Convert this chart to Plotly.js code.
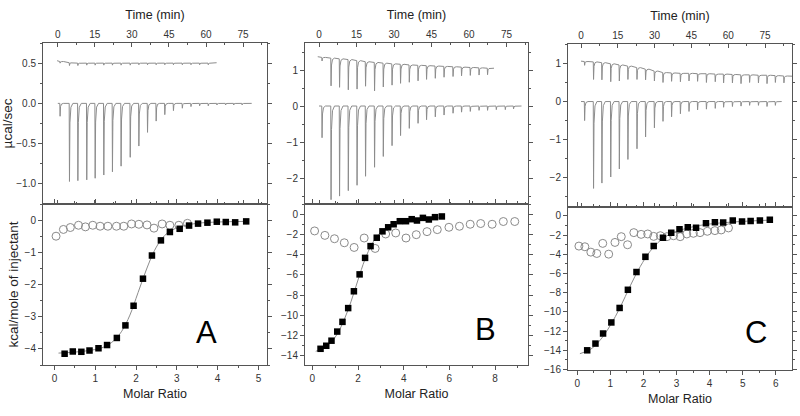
<!DOCTYPE html>
<html><head><meta charset="utf-8">
<script src="https://cdn.plot.ly/plotly-3.0.1.min.js"></script>
<style>html,body{margin:0;padding:0;background:#fff}#chart{width:800px;height:416px}</style>
</head><body><div id="chart"></div>
<script>
// ================= DATA =================
// ---- Panel A: raw thermograms (µcal/sec vs min) ----
const aMainTimes = [0.8, 4.6, 8.0, 11.6, 15.0, 18.5, 22.0, 25.5, 29.2, 32.7, 36.2, 39.7, 43.2, 46.7, 50.3, 53.8, 57.3, 60.8, 64.3, 67.8, 71.1, 74.5];
const aMainPeaks = [-0.16, -0.97, -0.96, -0.95, -0.93, -0.89, -0.85, -0.78, -0.67, -0.53, -0.36, -0.22, -0.14, -0.09, -0.06, -0.04, -0.03, -0.03, -0.02, -0.02, -0.02, -0.02];
const aMainBase = 0.0, aMainStart = 0.0, aMainEnd = 78.5;
const aCtrlTimes = [0.8, 4.6, 8.0, 11.6, 15.0, 18.5, 22.0, 25.5, 29.2, 32.7, 36.2, 39.7, 43.2, 46.7, 50.3, 53.8, 57.3, 60.8];
const aCtrlBase  = [0.52, 0.505, 0.50, 0.50, 0.50, 0.50, 0.50, 0.50, 0.50, 0.50, 0.50, 0.50, 0.50, 0.50, 0.50, 0.50, 0.50, 0.50];
const aCtrlPeaks = [0.50, 0.47, 0.47, 0.475, 0.475, 0.475, 0.475, 0.475, 0.475, 0.48, 0.48, 0.48, 0.48, 0.48, 0.48, 0.48, 0.48, 0.48];
const aCtrlStart = [-0.3, 0.53], aCtrlEnd = [64.3, 0.505];
// ---- Panel A: integrated heats (kcal/mole of injectant vs molar ratio) ----
const aSqX = [0.25, 0.45, 0.66, 0.86, 1.08, 1.29, 1.53, 1.74, 1.94, 2.17, 2.39, 2.61, 2.83, 3.07, 3.30, 3.52, 3.75, 3.98, 4.20, 4.43, 4.70];
const aSqY = [-4.15, -4.08, -4.09, -4.05, -3.98, -3.88, -3.66, -3.27, -2.66, -1.82, -1.10, -0.63, -0.37, -0.27, -0.17, -0.11, -0.08, -0.05, -0.06, -0.07, -0.04];
const aCiX = [0.04, 0.22, 0.39, 0.59, 0.76, 0.94, 1.12, 1.31, 1.52, 1.70, 1.89, 2.07, 2.27, 2.44, 2.64, 2.83, 3.05, 3.26];
const aCiY = [-0.50, -0.29, -0.23, -0.16, -0.21, -0.16, -0.19, -0.19, -0.19, -0.19, -0.12, -0.13, -0.15, -0.25, -0.12, -0.16, -0.16, -0.10];
const aFitX = [0.10, 0.50, 0.90, 1.20, 1.45, 1.65, 1.85, 2.05, 2.25, 2.45, 2.65, 2.85, 3.10, 3.50, 4.00, 4.70];
const aFitY = [-4.13, -4.10, -4.04, -3.95, -3.75, -3.45, -2.95, -2.25, -1.55, -0.95, -0.55, -0.33, -0.20, -0.10, -0.06, -0.04];

// ---- Panel B ----
const bMainTimes = [1.1, 4.7, 8.1, 11.6, 15.1, 18.5, 22.1, 25.6, 29.1, 32.5, 36.0, 39.5, 42.9, 46.4, 49.9, 53.5, 56.9, 60.4, 63.9, 67.3, 70.8, 74.4, 77.7];
const bMainPeaks = [-0.88, -2.60, -2.50, -2.35, -2.20, -1.95, -1.70, -1.40, -1.10, -0.82, -0.62, -0.48, -0.38, -0.30, -0.25, -0.20, -0.17, -0.15, -0.12, -0.12, -0.10, -0.10, -0.08];
const bMainBase = 0.0, bMainStart = 0.0, bMainEnd = 81.0;
const bCtrlTimes = [1.1, 4.7, 8.1, 11.6, 15.1, 18.5, 22.1, 25.6, 29.1, 32.5, 36.0, 39.5, 42.9, 46.4, 49.9, 53.5, 56.9, 60.4, 63.9, 67.3];
const bCtrlBase  = [1.35, 1.33, 1.31, 1.29, 1.26, 1.23, 1.21, 1.19, 1.17, 1.16, 1.14, 1.13, 1.12, 1.11, 1.10, 1.09, 1.08, 1.07, 1.06, 1.05];
const bCtrlPeaks = [1.25, 0.56, 0.52, 0.45, 0.47, 0.55, 0.42, 0.53, 0.58, 0.63, 0.66, 0.70, 0.74, 0.77, 0.80, 0.82, 0.84, 0.85, 0.86, 0.87];
const bCtrlStart = [-0.5, 1.37], bCtrlEnd = [70.0, 1.05];
const bSqX = [0.36, 0.61, 0.84, 1.09, 1.32, 1.57, 1.82, 2.07, 2.31, 2.55, 2.82, 3.07, 3.32, 3.56, 3.83, 4.10, 4.35, 4.58, 4.84, 5.10, 5.37, 5.67];
const bSqY = [-13.3, -13.0, -12.5, -11.6, -10.64, -9.28, -7.62, -5.95, -4.32, -3.16, -2.33, -1.70, -1.30, -1.00, -0.70, -0.70, -0.50, -0.63, -0.37, -0.53, -0.30, -0.23];
const bCiX = [0.10, 0.55, 0.97, 1.40, 1.83, 2.27, 2.75, 3.21, 3.65, 4.10, 4.55, 5.02, 5.47, 5.98, 6.44, 6.91, 7.37, 7.87, 8.36, 8.86];
const bCiY = [-1.66, -2.10, -2.43, -2.83, -3.29, -2.36, -3.39, -1.96, -1.86, -2.36, -2.03, -1.73, -1.53, -1.30, -1.20, -1.00, -0.93, -1.00, -0.73, -0.73];
const bFitX = [0.15, 0.50, 0.80, 1.10, 1.40, 1.70, 2.00, 2.30, 2.60, 2.90, 3.20, 3.60, 4.00, 4.60, 5.20, 5.70];
const bFitY = [-13.55, -13.2, -12.7, -11.8, -10.4, -8.6, -6.5, -4.5, -3.0, -2.0, -1.4, -1.0, -0.75, -0.55, -0.42, -0.35];

// ---- Panel C ----
const cMainTimes = [1.35, 5.0, 8.4, 12.0, 15.5, 19.0, 22.7, 26.2, 29.8, 33.3, 36.8, 40.4, 43.9, 47.4, 51.0, 54.6, 58.0, 61.6, 65.1, 68.6, 72.2, 75.7, 79.1];
const cMainPeaks = [-0.50, -2.28, -2.14, -1.98, -1.77, -1.52, -1.24, -0.93, -0.69, -0.52, -0.40, -0.32, -0.26, -0.22, -0.20, -0.18, -0.15, -0.13, -0.12, -0.10, -0.10, -0.13, -0.10];
const cMainBase = 0.0, cMainStart = 0.0, cMainEnd = 81.8;
const cCtrlTimes = [1.35, 5.0, 8.4, 12.0, 15.5, 19.0, 22.7, 26.2, 29.8, 33.3, 36.8, 40.4, 43.9, 47.4, 51.0, 54.6, 58.0, 61.6, 65.1, 68.6, 72.2, 75.7, 79.1, 82.6];
const cCtrlBase  = [1.05, 1.04, 1.02, 0.99, 0.96, 0.93, 0.89, 0.85, 0.80, 0.76, 0.75, 0.74, 0.74, 0.73, 0.73, 0.72, 0.72, 0.71, 0.70, 0.70, 0.69, 0.69, 0.68, 0.67];
const cCtrlPeaks = [0.95, 0.58, 0.57, 0.52, 0.54, 0.58, 0.58, 0.57, 0.54, 0.50, 0.53, 0.52, 0.54, 0.53, 0.50, 0.52, 0.49, 0.49, 0.47, 0.50, 0.49, 0.47, 0.50, 0.49];
const cCtrlStart = [0.0, 1.06], cCtrlEnd = [88.0, 0.66];
const cSqX = [0.30, 0.55, 0.78, 1.03, 1.28, 1.53, 1.79, 2.06, 2.31, 2.59, 2.84, 3.09, 3.34, 3.59, 3.89, 4.16, 4.41, 4.70, 4.98, 5.24, 5.52, 5.82];
const cSqY = [-14.0, -13.3, -12.25, -11.1, -9.59, -7.70, -5.85, -4.27, -3.15, -2.28, -1.75, -1.40, -1.19, -1.23, -0.77, -0.67, -0.70, -0.49, -0.60, -0.53, -0.49, -0.42];
const cCiX = [0.05, 0.23, 0.41, 0.59, 0.77, 0.95, 1.14, 1.33, 1.52, 1.71, 1.93, 2.13, 2.31, 2.51, 2.71, 2.91, 3.11, 3.31, 3.51, 3.71, 3.93, 4.16, 4.35, 4.57];
const cCiY = [-3.15, -3.22, -3.78, -3.92, -2.87, -3.99, -2.77, -2.17, -3.01, -1.75, -1.93, -1.89, -2.14, -2.07, -2.17, -2.07, -2.17, -1.89, -1.82, -1.75, -1.61, -1.54, -1.47, -1.26];
const cFitX = [0.08, 0.40, 0.70, 1.00, 1.30, 1.60, 1.90, 2.20, 2.50, 2.80, 3.20, 3.70, 4.30, 5.00, 5.80];
const cFitY = [-14.35, -13.9, -12.9, -11.4, -9.5, -7.3, -5.3, -3.7, -2.6, -1.9, -1.4, -1.0, -0.75, -0.58, -0.45];

const panelLetters = ['A', 'B', 'C'];

// ================= BUILD =================
// Each injection is drawn as a narrow spike from its baseline to its read peak value.
function thermogram(times, base, peaks, start, end) {
  const dt = [0, 0.12, 0.3, 0.7, 1.5];
  const fr = [0, 1, 0.25, 0.05, 0];
  const x = [start[0]], y = [start[1]];
  for (let i = 0; i < times.length; i++) {
    const b = Array.isArray(base) ? base[i] : base;
    for (let k = 0; k < dt.length; k++) {
      x.push(times[i] + dt[k]);
      y.push(b + (peaks[i] - b) * fr[k]);
    }
  }
  x.push(end[0]); y.push(end[1]);
  return {x, y};
}

const FONT = 'Arial, "Liberation Sans", sans-serif';
const rawLine = {color: '#8c8c8c', width: 1};
const traces = [];
function addRaw(t, xa, ya) {
  traces.push({type: 'scatter', mode: 'lines', x: t.x, y: t.y, xaxis: xa, yaxis: ya, line: rawLine, hoverinfo: 'skip', showlegend: false});
}
function addHeats(sx, sy, cx, cy, fx, fy, xa, ya) {
  traces.push({type: 'scatter', mode: 'lines', x: fx, y: fy, xaxis: xa, yaxis: ya, line: {color: '#8c8c8c', width: 1, shape: 'spline'}, showlegend: false});
  traces.push({type: 'scatter', mode: 'markers', x: cx, y: cy, xaxis: xa, yaxis: ya, marker: {symbol: 'circle-open', size: 8, color: '#8a8a8a', line: {width: 1, color: '#8a8a8a'}}, showlegend: false});
  traces.push({type: 'scatter', mode: 'markers', x: sx, y: sy, xaxis: xa, yaxis: ya, marker: {symbol: 'square', size: 6.5, color: '#000'}, showlegend: false});
}

addRaw(thermogram(aCtrlTimes, aCtrlBase, aCtrlPeaks, aCtrlStart, aCtrlEnd), 'x', 'y');
addRaw(thermogram(aMainTimes, aMainBase, aMainPeaks, [aMainStart, aMainBase], [aMainEnd, aMainBase]), 'x', 'y');
addHeats(aSqX, aSqY, aCiX, aCiY, aFitX, aFitY, 'x2', 'y2');
addRaw(thermogram(bCtrlTimes, bCtrlBase, bCtrlPeaks, bCtrlStart, bCtrlEnd), 'x3', 'y3');
addRaw(thermogram(bMainTimes, bMainBase, bMainPeaks, [bMainStart, bMainBase], [bMainEnd, bMainBase]), 'x3', 'y3');
addHeats(bSqX, bSqY, bCiX, bCiY, bFitX, bFitY, 'x4', 'y4');
addRaw(thermogram(cCtrlTimes, cCtrlBase, cCtrlPeaks, cCtrlStart, cCtrlEnd), 'x5', 'y5');
addRaw(thermogram(cMainTimes, cMainBase, cMainPeaks, [cMainStart, cMainBase], [cMainEnd, cMainBase]), 'x5', 'y5');
addHeats(cSqX, cSqY, cCiX, cCiY, cFitX, cFitY, 'x6', 'y6');

// ================= LAYOUT =================
const W = 800, H = 416, L = 43, R = 792, T = 43, B = 370;
const px = (a, b) => [(a - L) / (R - L), (b - L) / (R - L)];
const py = (top, bot) => [1 - (bot - T) / (B - T), 1 - (top - T) / (B - T)];
const tickfont = {family: FONT, size: 10, color: '#333'};
const titlefont = {family: FONT, size: 12.5, color: '#222'};
function ax(extra) {
  return Object.assign({
    showline: true, linecolor: '#555', linewidth: 1, mirror: 'ticks',
    ticks: 'outside', ticklen: 4, tickwidth: 1, tickcolor: '#555',
    showgrid: false, zeroline: false, tickfont: tickfont, fixedrange: true
  }, extra);
}
function timeAx(dom, rng, anchor) {
  return ax({domain: dom, range: rng, anchor: anchor, side: 'top', tick0: 0, dtick: 15, ticks: 'inside',
    minor: {ticks: 'inside', ticklen: 2, dtick: 7.5, tickcolor: '#555'},
    title: {text: 'Time (min)', font: titlefont, standoff: 6}});
}
function ratioAx(dom, rng, anchor, d) {
  return ax({domain: dom, range: rng, anchor: anchor, tick0: 0, dtick: d,
    minor: {ticks: 'outside', ticklen: 2, dtick: d / 2, tickcolor: '#555'},
    title: {text: 'Molar Ratio', font: titlefont, standoff: 6}});
}
function valAx(dom, rng, anchor, d, fmt, title) {
  const o = {domain: dom, range: rng, anchor: anchor, tick0: 0, dtick: d,
    minor: {ticks: 'outside', ticklen: 2, dtick: d / 2, tickcolor: '#555'}};
  if (fmt) o.tickformat = fmt;
  if (title) o.title = {text: title, font: {family: FONT, size: 13.5, color: '#222'}, standoff: 2};
  return ax(o);
}

const layout = {
  width: W, height: H,
  margin: {l: L, r: W - R, t: T, b: H - B, pad: 0},
  paper_bgcolor: '#fff', plot_bgcolor: '#fff',
  font: {family: FONT},
  showlegend: false,
  // Panel A
  xaxis:  timeAx(px(43, 267), [-6.0, 84.7], 'y'),
  yaxis:  valAx(py(43, 204), [-1.25, 0.75], 'x', 0.5, '.1f', 'µcal/sec'),
  xaxis2: ratioAx(px(43, 267), [-0.28, 5.21], 'y2', 1),
  yaxis2: valAx(py(204, 365), [-4.5, 0.5], 'x2', 1, null, 'kcal/mole of injectant'),
  // Panel B
  xaxis3: timeAx(px(305, 528), [-5.6, 83.6], 'y3'),
  yaxis3: valAx(py(43, 204), [-2.72, 1.75], 'x3', 1),
  xaxis4: ratioAx(px(305, 528), [-0.32, 9.44], 'y4', 2),
  yaxis4: valAx(py(204, 365), [-14.9, 1.0], 'x4', 2),
  // Panel C
  xaxis5: timeAx(px(568, 792), [-5.3, 86.0], 'y5'),
  yaxis5: valAx(py(44, 206.7), [-2.76, 1.51], 'x5', 1),
  xaxis6: ratioAx(px(568, 792), [-0.28, 6.49], 'y6', 1),
  yaxis6: valAx(py(206.7, 370), [-16.05, 0.95], 'x6', 2),
  annotations: [
    {text: panelLetters[0], xref: 'x2', yref: 'y2', x: 3.73, y: -3.48, showarrow: false, font: {family: FONT, size: 31, color: '#000'}},
    {text: panelLetters[1], xref: 'x4', yref: 'y4', x: 7.56, y: -11.39, showarrow: false, font: {family: FONT, size: 31, color: '#000'}},
    {text: panelLetters[2], xref: 'x6', yref: 'y6', x: 5.40, y: -12.1, showarrow: false, font: {family: FONT, size: 31, color: '#000'}}
  ]
};

Plotly.newPlot('chart', traces, layout, {displayModeBar: false, staticPlot: true});
</script>
</body></html>
